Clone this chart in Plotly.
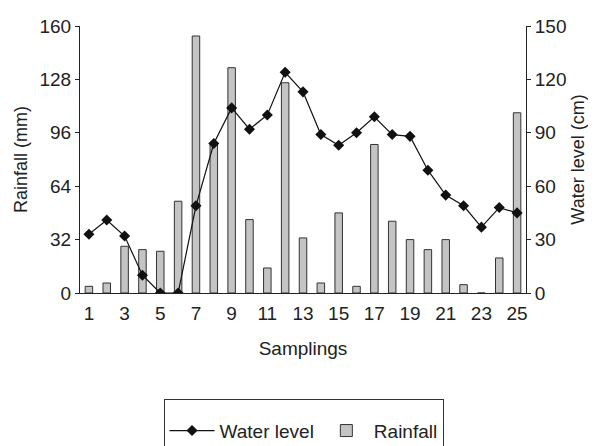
import plotly.graph_objects as go

samplings = [1, 2, 3, 4, 5, 6, 7, 8, 9, 10, 11, 12, 13, 14, 15, 16, 17, 18, 19, 20, 21, 22, 23, 24, 25]
rainfall_mm = [4, 6, 28, 26, 25, 55, 154, 89, 135, 44, 15, 126, 33, 6, 48, 4, 89, 43, 32, 26, 32, 5, 0, 21, 108]
water_level_cm = [33, 41, 32, 10, 0, 0, 49, 84, 104, 92, 100, 124, 113, 89, 83, 90, 99, 89, 88, 69, 55, 49, 37, 48, 45]
x_tick_labels = ["1", "3", "5", "7", "9", "11", "13", "15", "17", "19", "21", "23", "25"]
x_tick_vals = [1, 3, 5, 7, 9, 11, 13, 15, 17, 19, 21, 23, 25]
left_ticks = [0, 32, 64, 96, 128, 160]
right_ticks = [0, 30, 60, 90, 120, 150]

FONT = "Liberation Sans, Arial, sans-serif"
INK = "#222222"

fig = go.Figure()
fig.add_trace(go.Scatter(
    x=samplings, y=water_level_cm, name="Water level", yaxis="y2",
    mode="lines+markers",
    line=dict(color="#111111", width=1.2),
    marker=dict(symbol="diamond", size=8.5, color="#111111"),
))
fig.add_trace(go.Bar(
    x=samplings, y=rainfall_mm, name="Rainfall", yaxis="y",
    width=0.42,
    marker=dict(color="#c4c4c4", line=dict(color="#333333", width=1)),
))

# page body has an 8px default margin, so the figure is sized to fit inside the window
fig.update_layout(
    width=588, height=438,
    margin=dict(l=72, r=70, t=18, b=153, autoexpand=False),
    paper_bgcolor="white", plot_bgcolor="white",
    font=dict(family=FONT, size=19, color=INK),
    showlegend=True,
    legend=dict(
        orientation="h", xref="container", yref="container",
        x=0.5026, xanchor="center", y=0.1073, yanchor="top",
        bordercolor="#333333", borderwidth=1,
        font=dict(size=19, color=INK),
        itemwidth=45,
        title=dict(text="&nbsp;", side="top", font=dict(size=9)),
    ),
    xaxis=dict(
        range=[0.5, 25.5], tickmode="array", tickvals=x_tick_vals, ticktext=x_tick_labels,
        showgrid=False, zeroline=False, showline=True, linecolor=INK, linewidth=1,
        ticks="outside", ticklen=3, tickcolor="rgba(0,0,0,0)",
        tickfont=dict(size=19), automargin=False,
        title=dict(text="Samplings", standoff=18, font=dict(size=19)),
    ),
    yaxis=dict(
        range=[0, 160], tickmode="array", tickvals=left_ticks,
        showgrid=False, zeroline=False, showline=True, linecolor=INK, linewidth=1,
        ticks="outside", ticklen=4, tickcolor=INK, tickfont=dict(size=19), automargin=False,
        title=dict(text="Rainfall (mm)", standoff=7, font=dict(size=18)),
    ),
    yaxis2=dict(
        range=[0, 150], tickmode="array", tickvals=right_ticks,
        overlaying="y", side="right",
        showgrid=False, zeroline=False, showline=True, linecolor=INK, linewidth=1,
        ticks="outside", ticklen=4, tickcolor=INK, tickfont=dict(size=19), automargin=False,
        title=dict(text="Water level (cm)", standoff=5, font=dict(size=18)),
    ),
)

fig.write_html("out.html")
